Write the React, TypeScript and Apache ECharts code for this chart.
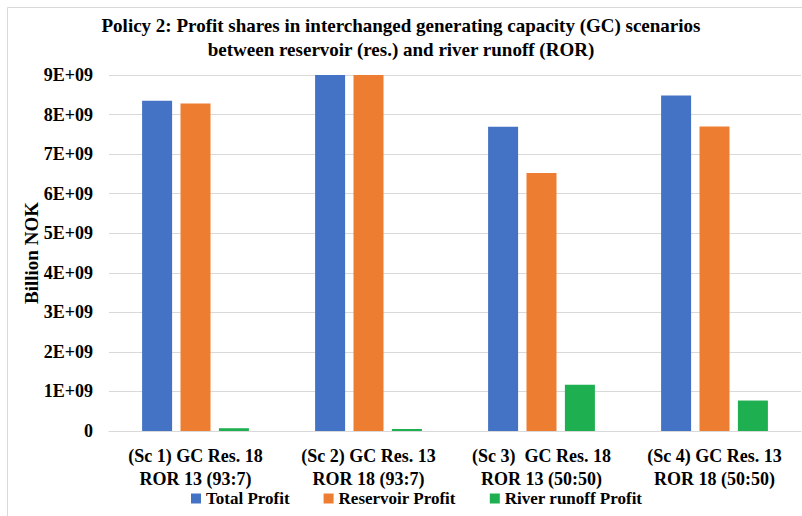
import React, { useEffect, useRef } from "react";
import * as echarts from "echarts";

const categories = [
  "(Sc 1) GC Res. 18\nROR 13 (93:7)",
  "(Sc 2) GC Res. 13\nROR 18 (93:7)",
  "(Sc 3)  GC Res. 18\nROR 13 (50:50)",
  "(Sc 4) GC Res. 13\nROR 18 (50:50)",
];
const totalProfit = [8.35e9, 9.0e9, 7.69e9, 8.48e9];
const reservoirProfit = [8.28e9, 9.0e9, 6.52e9, 7.7e9];
const riverRunoffProfit = [0.07e9, 0.05e9, 1.17e9, 0.77e9];
const seriesNames = ["Total Profit", "Reservoir Profit", "River runoff Profit"];
const titleLines = [
  "Policy 2: Profit shares in interchanged generating capacity (GC) scenarios",
  "between reservoir (res.) and river runoff (ROR)",
];
const yAxisName = "Billion NOK";

const FONT = "'Liberation Serif', 'Times New Roman', serif";

export default function App() {
  const ref = useRef<HTMLDivElement>(null);
  useEffect(() => {
    const chart = echarts.init(ref.current!, null, { renderer: "svg" });
    const colors = ["#4472C4", "#ED7D31", "#1DAF50"];
    const data = [totalProfit, reservoirProfit, riverRunoffProfit];
    chart.setOption({
      animation: false,
      backgroundColor: "#ffffff",
      title: {
        text: titleLines.join("\n"),
        left: "center",
        top: 8,
        textStyle: {
          fontFamily: FONT,
          fontWeight: "bold",
          fontSize: 19,
          lineHeight: 24,
          color: "#000",
        },
      },
      graphic: [
        {
          type: "polyline",
          shape: { points: [[7.5, 520], [7.5, 7.5], [810, 7.5]] },
          style: { stroke: "#d9d9d9", fill: "none", lineWidth: 1 },
          silent: true,
        },
      ],
      legend: {
        bottom: 4,
        left: 186,
        itemWidth: 10,
        itemHeight: 10,
        itemGap: 34,
        icon: "rect",
        textStyle: {
          fontFamily: FONT,
          fontWeight: "bold",
          fontSize: 17,
          color: "#000",
        },
        data: seriesNames,
      },
      grid: { left: 109, right: 1, top: 75, bottom: 85 },
      xAxis: {
        type: "category",
        data: categories,
        axisTick: { show: false },
        axisLine: { lineStyle: { color: "#d9d9d9", width: 1 } },
        axisLabel: {
          fontFamily: FONT,
          fontWeight: "bold",
          fontSize: 18,
          lineHeight: 23,
          color: "#000",
          margin: 13,
          interval: 0,
        },
      },
      yAxis: {
        type: "value",
        min: 0,
        max: 9e9,
        interval: 1e9,
        name: yAxisName,
        nameLocation: "middle",
        nameRotate: 90,
        nameGap: 68,
        nameMoveOverlap: false,
        nameTextStyle: {
          fontFamily: FONT,
          fontWeight: "bold",
          fontSize: 19,
          color: "#000",
        },
        axisLine: { show: false },
        axisTick: { show: false },
        splitLine: { lineStyle: { color: "#d9d9d9", width: 1 } },
        axisLabel: {
          fontFamily: FONT,
          fontWeight: "bold",
          fontSize: 18,
          color: "#000",
          margin: 16,
          formatter: (v: number) => (v === 0 ? "0" : `${Math.round(v / 1e9)}E+09`),
        },
      },
      series: seriesNames.map((name, i) => ({
        name,
        type: "bar",
        data: data[i],
        barWidth: 30,
        barGap: "28%",
        itemStyle: { color: colors[i] },
      })),
    });
    return () => chart.dispose();
  }, []);
  return (
    <div
      ref={ref}
      style={{ position: "fixed", left: 0, top: 0, width: 802, height: 516 }}
    />
  );
}
